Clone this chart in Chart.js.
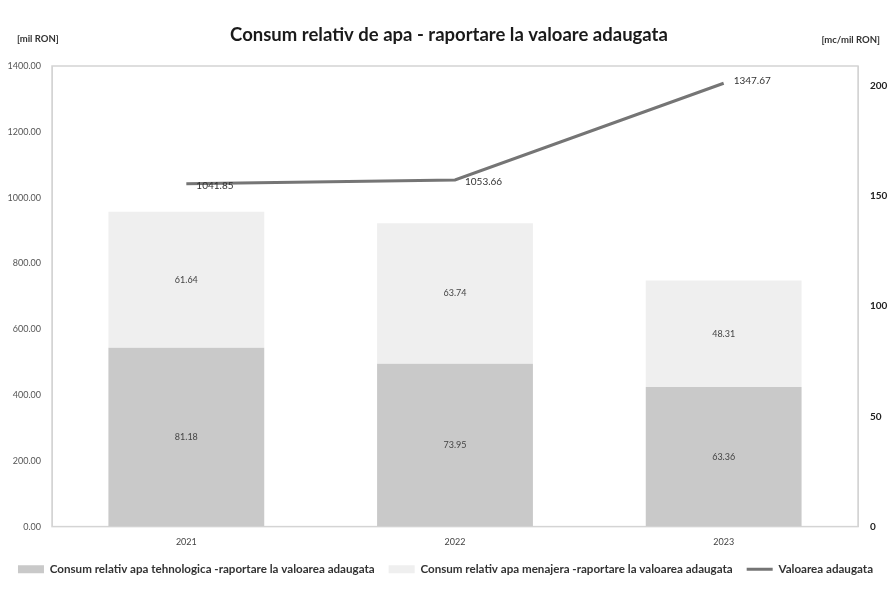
<!DOCTYPE html>
<html>
<head>
<meta charset="utf-8">
<script src="https://cdn.jsdelivr.net/npm/chart.js@4"></script>
<style>
  html, body { margin: 0; padding: 0; background: #fff; }
  #wrap { width: 891px; height: 591px; }
</style>
</head>
<body>
<div id="wrap"><canvas id="c" width="891" height="591"></canvas></div>
<script>
const years = ["2021", "2022", "2023"];
const apaTehnologica = [81.18, 73.95, 63.36];   // mc/mil RON
const apaMenajera = [61.64, 63.74, 48.31];      // mc/mil RON
const valoareaAdaugata = [1041.85, 1053.66, 1347.67]; // mil RON
const leftTicks = [0, 200, 400, 600, 800, 1000, 1200, 1400];
const rightTicks = [0, 50, 100, 150, 200];

const FONT = "Lato, 'Open Sans', sans-serif";

// titles, units, plot border, value labels
const extras = {
  id: "extras",
  beforeDraw(chart) {
    const { ctx, chartArea: a } = chart;
    ctx.save();
    ctx.strokeStyle = "#d4d4d4";
    ctx.lineWidth = 1.5;
    ctx.strokeRect(a.left, a.top, a.right - a.left, a.bottom - a.top);
    ctx.restore();
  },
  afterDatasetsDraw(chart) {
    const { ctx } = chart;
    ctx.save();
    ctx.fillStyle = "#1a1a1a";
    ctx.font = "bold 18.5px " + FONT;
    ctx.textAlign = "center";
    ctx.textBaseline = "middle";
    ctx.fillText("Consum relativ de apa - raportare la valoare adaugata", 449, 35);
    ctx.font = "bold 9.5px " + FONT;
    ctx.fillStyle = "#333";
    ctx.textAlign = "left";
    ctx.fillText("[mil RON]", 17, 39);
    ctx.textAlign = "right";
    ctx.fillText("[mc/mil RON]", 880, 40);

    // bar labels
    ctx.font = "9px " + FONT;
    ctx.fillStyle = "#444";
    ctx.textAlign = "center";
    [0, 1].forEach(di => {
      const meta = chart.getDatasetMeta(di);
      meta.data.forEach((bar, i) => {
        const v = chart.data.datasets[di].data[i];
        ctx.fillText(v.toFixed(2), bar.x, (bar.y + bar.base) / 2);
      });
    });
    // line labels
    const lm = chart.getDatasetMeta(2);
    ctx.font = "10px " + FONT;
    ctx.fillStyle = "#333";
    ctx.textAlign = "left";
    lm.data.forEach((pt, i) => {
      const v = valoareaAdaugata[i];
      ctx.fillText(v.toFixed(2), pt.x + 10, pt.y + (i === 2 ? -2 : 2));
    });
    ctx.restore();
  }
};

new Chart(document.getElementById("c"), {
  data: {
    labels: years,
    datasets: [
      {
        type: "bar",
        label: "Consum relativ apa tehnologica -raportare la valoarea adaugata",
        data: apaTehnologica,
        backgroundColor: "#c9c9c9",
        yAxisID: "y1",
        stack: "s",
        order: 2,
        barPercentage: 0.58,
        categoryPercentage: 1,
        pointStyle: "rect",
      },
      {
        type: "bar",
        label: "Consum relativ apa menajera -raportare la valoarea adaugata",
        data: apaMenajera,
        backgroundColor: "#efefef",
        yAxisID: "y1",
        stack: "s",
        order: 2,
        barPercentage: 0.58,
        categoryPercentage: 1,
        pointStyle: "rect",
      },
      {
        type: "line",
        label: "Valoarea adaugata",
        data: valoareaAdaugata,
        borderColor: "#757575",
        backgroundColor: "#757575",
        borderWidth: 3,
        pointRadius: 0,
        pointStyle: "line",
        yAxisID: "y",
        order: 1,
      },
    ],
  },
  options: {
    responsive: false,
    animation: false,
    layout: { padding: { top: 66, left: 0, right: 0, bottom: 6 } },
    plugins: {
      title: { display: false },
      tooltip: { enabled: false },
      legend: {
        position: "bottom",
        labels: {
          usePointStyle: true,
          pointStyleWidth: 26,
          boxHeight: 8,
          padding: 14,
          color: "#333",
          font: { family: FONT, size: 11.6, weight: "bold" },
          sort: (a, b) => a.datasetIndex - b.datasetIndex,
        },
      },
    },
    scales: {
      x: {
        stacked: true,
        grid: { display: false },
        border: { color: "#d4d4d4" },
        ticks: { color: "#444", padding: 2, font: { family: FONT, size: 9 } },
      },
      y: {
        position: "left",
        min: 0,
        max: 1400,
        afterBuildTicks: s => { s.ticks = leftTicks.map(v => ({ value: v })); },
        afterFit: s => { s.width = 52; },
        grid: { display: false },
        border: { color: "#d4d4d4" },
        ticks: {
          color: "#555",
          font: { family: FONT, size: 9 },
          callback: v => Number(v).toFixed(2),
        },
      },
      y1: {
        position: "right",
        stacked: true,
        min: 0,
        max: 209,
        afterBuildTicks: s => { s.ticks = rightTicks.map(v => ({ value: v })); },
        afterFit: s => { s.width = 33; },
        grid: { display: false },
        border: { color: "#d4d4d4" },
        ticks: {
          color: "#222",
          padding: 4,
          font: { family: FONT, size: 10, weight: "bold" },
        },
      },
    },
  },
  plugins: [extras],
});
</script>
</body>
</html>
